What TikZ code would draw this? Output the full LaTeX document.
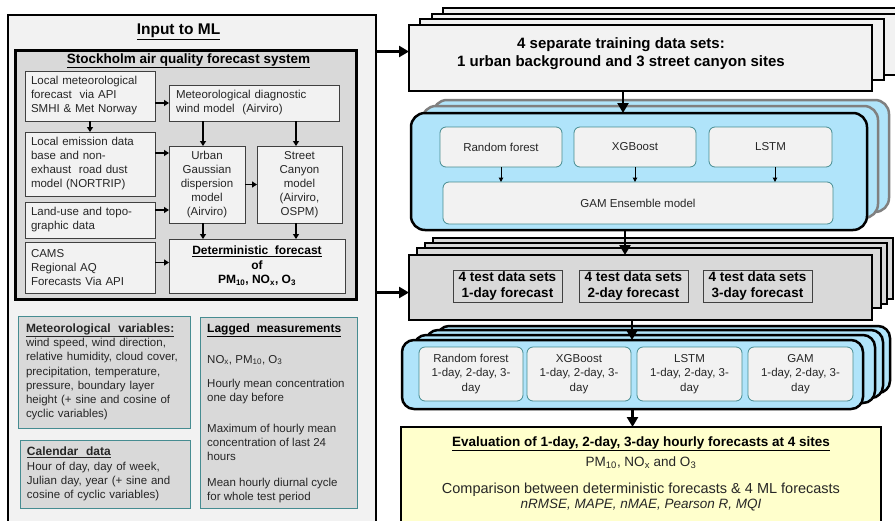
\documentclass[tikz,border=0pt]{standalone}
\usepackage{fontspec}
\setmainfont{Liberation Sans}
\usetikzlibrary{arrows.meta}
\definecolor{lightbg}{RGB}{242,242,242}
\definecolor{midgray}{RGB}{217,217,217}
\definecolor{tealedge}{RGB}{70,140,145}
\definecolor{mlblue}{RGB}{176,228,250}
\definecolor{evyellow}{RGB}{255,255,204}
\definecolor{txt}{RGB}{38,38,38}
\definecolor{boxedge}{RGB}{64,64,64}
\definecolor{backedge}{RGB}{128,128,128}
\newcommand\fs[2]{\fontsize{#1}{#2}\selectfont}
\newcommand\bx[7]{\node[#6, minimum width={(#4-#2)*1pt}, minimum height={(#5-#3)*1pt}, inner sep=0pt, outer sep=0pt] (#1) at ({(#2+#4)/2},{(#3+#5)/2}) {#7};}
\tikzset{
  bigbox/.style={draw=black, line width=2.5pt},
  lbox/.style={draw=boxedge, line width=0.8pt, fill=lightbg, font=\fs{11.5}{14}, text=txt},
  tbox/.style={draw=tealedge, line width=1pt, fill=midgray, font=\fs{11.5}{14.2}, text=txt},
  ltxt/.style={font=\fs{11.5}{14}, text=txt, inner sep=0pt},
  trbox/.style={draw=black, line width=2.5pt, fill=lightbg},
  tsbox/.style={draw=black, line width=2.5pt, fill=midgray},
  tibox/.style={draw=boxedge, line width=0.8pt, fill=midgray, font=\bfseries\fs{13.5}{16}, align=center},
  mlback/.style={draw=backedge, line width=2.5pt, fill=mlblue, rounded corners=14pt},
  mlfront/.style={draw=black, line width=2.5pt, fill=mlblue, rounded corners=14pt},
  fcbox/.style={draw=black, line width=2.5pt, fill=mlblue, rounded corners=12pt},
  ibox/.style={draw=tealedge, line width=0.8pt, fill=lightbg, rounded corners=6pt, font=\fs{11.5}{14.5}, text=txt},
  bigarr/.style={line width=2.8pt, -{Triangle[length=10pt,width=11pt]}},
  smarr/.style={line width=1.5pt, -{Triangle[length=5pt,width=6pt]}},
  tinyarr/.style={line width=1pt, -{Triangle[length=4.5pt,width=4.5pt]}}
}
\begin{document}
\begin{tikzpicture}[x=1pt,y=-1pt]
\path[use as bounding box] (0,0) rectangle (895,520);
\clip (0,0) rectangle (895,520);
% ---------------- left: input to ML
\bx{inp}{8}{15}{376}{530}{bigbox, fill=lightbg}{}
\node[font=\bfseries\fs{15.5}{18}] (inpt) at (178.5,32) {\underline{Input to ML}};
\bx{sto}{15}{50}{356}{299}{bigbox, line width=3pt, fill=midgray}{}
\node[font=\bfseries\fs{13.5}{16}] (stot) at (188.5,61) {\underline{Stockholm air quality forecast system}};

\bx{lm}{25}{71}{155}{121}{lbox, text width=118pt, align=left}{Local meteorological\\forecast\ \ via API\\SMHI \& Met Norway}
\bx{md}{169}{85}{339}{121}{lbox, text width=156pt, align=left}{Meteorological diagnostic\\wind model\ \ (Airviro)}
\bx{em}{25}{132}{155}{196}{lbox, text width=118pt, align=left}{Local emission data\\base and non-\\exhaust\ \ road dust\\model (NORTRIP)}
\bx{ug}{169}{146}{245}{223}{lbox, align=center}{Urban\\Gaussian\\dispersion\\model\\(Airviro)}
\bx{sc}{257}{146}{342}{223}{lbox, align=center}{Street\\Canyon\\model\\(Airviro,\\OSPM)}
\bx{lu}{25}{202}{155}{238}{lbox, text width=118pt, align=left}{Land-use and topo-\\graphic data}
\bx{ca}{25}{242}{155}{293}{lbox, text width=118pt, align=left}{CAMS\\Regional AQ\\Forecasts Via API}
\bx{de}{169}{239}{345}{293}{lbox, align=center, font=\bfseries\fs{12}{14.5}, text=black}{\underline{Deterministic\ \ forecast}\\of\\PM\textsubscript{10}, NO\textsubscript{x}, O\textsubscript{3}}

\coordinate (ugx) at ([xshift=-4pt]ug.north);
\coordinate (scx) at ([xshift=-3.5pt]sc.north);
\coordinate (ugb) at ([xshift=-4pt]ug.south);
\coordinate (scb) at ([xshift=-3.5pt]sc.south);
\coordinate (emy) at ([yshift=11pt]em.east);
\coordinate (luy) at ([yshift=10pt]lu.east);
\coordinate (cay) at ([yshift=5pt]ca.east);
\draw[smarr] (lm.east |- md.west) -- (md.west);
\draw[smarr] (lm.south) -- (em.north);
\draw[smarr] (ugx |- md.south) -- (ugx);
\draw[smarr] (scx |- md.south) -- (scx);
\draw[smarr] (emy) -- (emy -| ug.west);
\draw[smarr] (ug.east) -- (ug.east -| sc.west);
\draw[smarr] (luy) -- (luy -| ug.west);
\draw[smarr] (ugb) -- (ugb |- de.north);
\draw[smarr] (scb) -- (scb |- de.north);
\draw[smarr] (cay) -- (cay -| de.west);

\bx{mv}{18}{316}{190}{428}{tbox, text width=156pt, align=left}{{\bfseries\fs{12}{14}\underline{Meteorological\ \ variables:}}\\wind speed, wind direction,\\relative humidity, cloud cover,\\precipitation, temperature,\\pressure, boundary layer\\height (+ sine and cosine of\\cyclic variables)}
\bx{cd}{20}{440}{190}{508}{tbox, text width=156pt, align=left}{{\bfseries\fs{12}{14}\underline{Calendar\ \ data}}\\Hour of day, day of week,\\Julian day, year (+ sine and\\cosine of cyclic variables)}
\bx{lg}{200}{317}{357}{508}{tbox}{}
\node[ltxt, anchor=west, font=\bfseries\fs{12}{14}, text=black] (lg1) at (207,330) {\underline{Lagged\ \ measurements}};
\node[ltxt, anchor=west] (lg2) at (207,360) {NO\textsubscript{x}, PM\textsubscript{10}, O\textsubscript{3}};
\node[ltxt, anchor=west, align=left] (lg3) at (207,392) {Hourly mean concentration\\one day before};
\node[ltxt, anchor=west, align=left] (lg4) at (207,442) {Maximum of hourly mean\\concentration of last 24\\hours};
\node[ltxt, anchor=west, align=left] (lg5) at (207,491) {Mean hourly diurnal cycle\\for whole test period};

% ---------------- right: training data sets
\bx{trc}{443}{8}{909}{70}{trbox}{}
\bx{trb}{432}{14}{897}{75}{trbox}{}
\bx{tra}{420}{19}{884}{80}{trbox}{}
\bx{tr}{409}{25}{872}{91}{trbox}{}
\node[font=\bfseries\fs{15}{17.5}, align=center] (trt) at (621,53.5) {4 separate training data sets:\\1 urban background and 3 street canyon sites};

% ML models
\bx{mlb}{433}{100}{889}{212}{mlback}{}
\bx{mla}{422}{106}{878}{218}{mlback}{}
\bx{ml}{411}{113}{867}{230}{mlfront}{}
\bx{rf}{440}{127}{562}{167}{ibox}{Random forest}
\bx{xg}{574}{127}{696}{167}{ibox}{XGBoost}
\bx{ls}{709}{127}{832}{167}{ibox}{LSTM}
\bx{ga}{443}{182}{833}{224}{ibox}{GAM Ensemble model}
\coordinate (lsx) at ([xshift=4.5pt]ls.south);
\draw[tinyarr] (rf.south) -- (rf.south |- ga.north);
\draw[tinyarr] (xg.south) -- (xg.south |- ga.north);
\draw[tinyarr] (lsx) -- (lsx |- ga.north);

% test data sets
\bx{tsc}{433}{238}{893}{299}{tsbox}{}
\bx{tsb}{425}{243}{887}{304}{tsbox}{}
\bx{tsa}{417}{248}{881}{308}{tsbox}{}
\bx{ts}{409}{255}{872}{320}{tsbox}{}
\bx{t1}{453}{270}{562}{302}{tibox}{4 test data sets\\1-day forecast}
\bx{t2}{579}{270}{688}{302}{tibox}{4 test data sets\\2-day forecast}
\bx{t3}{703}{270}{812}{302}{tibox}{4 test data sets\\3-day forecast}

% forecasts
\bx{fcc}{437}{326}{890}{393}{fcbox}{}
\bx{fcb}{426}{330}{883}{398}{fcbox}{}
\bx{fca}{414}{335}{875}{403}{fcbox}{}
\bx{fc}{402}{340}{863}{409}{fcbox}{}
\bx{f1}{419}{347}{523}{401}{ibox, align=center}{Random forest\\1-day, 2-day, 3-\\day}
\bx{f2}{527}{347}{631}{401}{ibox, align=center}{XGBoost\\1-day, 2-day, 3-\\day}
\bx{f3}{637}{347}{742}{401}{ibox, align=center}{LSTM\\1-day, 2-day, 3-\\day}
\bx{f4}{748}{347}{853}{401}{ibox, align=center}{GAM\\1-day, 2-day, 3-\\day}

% evaluation
\bx{ev}{401}{427}{881}{530}{bigbox, fill=evyellow}{}
\node[font=\bfseries\fs{13.5}{16}] (evh) at (641,444) {\underline{Evaluation of 1-day, 2-day, 3-day hourly forecasts at 4 sites}};
\node[font=\fs{13.5}{16}, text=txt] (evp) at (641,463) {PM\textsubscript{10}, NO\textsubscript{x} and O\textsubscript{3}};
\node[font=\fs{14.5}{17}, text=txt] (evc) at (641,490) {Comparison between deterministic forecasts \& 4 ML forecasts};
\node[font=\itshape\fs{13.5}{16}, text=txt] (evi) at (641,505) {nRMSE, MAPE, nMAE, Pearson R, MQI};

% big arrows
\coordinate (try) at ([yshift=6.5pt]tr.west);
\coordinate (tsy) at ([yshift=-5pt]ts.west);
\coordinate (trx) at ([xshift=-17.5pt]tr.south);
\coordinate (mlx) at ([xshift=-14pt]ml.south);
\coordinate (tsx) at ([xshift=-8.5pt]ts.south);
\draw[bigarr] (try -| inp.east) -- (try);
\draw[bigarr] (tsy -| inp.east) -- (tsy);
\draw[bigarr] (trx) -- (trx |- ml.north);
\draw[bigarr] (mlx) -- (mlx |- ts.north);
\draw[bigarr] (tsx) -- (tsx |- fc.north);
\draw[bigarr] (fc.south) -- (fc.south |- ev.north);
\end{tikzpicture}
\end{document}
